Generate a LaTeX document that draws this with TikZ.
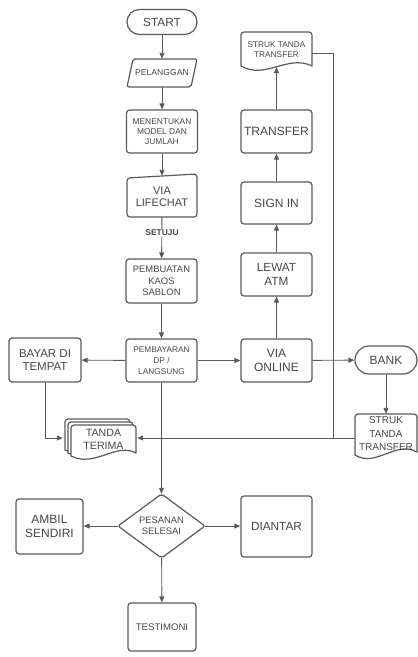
\documentclass[tikz,border=0pt]{standalone}
\usepackage{fontspec}
\setmainfont{Liberation Sans}
\usetikzlibrary{arrows.meta,calc}
\definecolor{ln}{HTML}{5A5A5A}
\definecolor{tx}{HTML}{474747}
\tikzset{
  box/.style={draw=ln, line width=1.2pt, rounded corners=3pt, fill=white, align=center, text=tx, inner sep=1pt},
  ghost/.style={align=center, text=tx, inner sep=1pt},
  outl/.style={draw=ln, line width=1.2pt, fill=white, line join=round},
  arr/.style={draw=ln, line width=0.9pt, -{Triangle[length=6pt,width=5pt]}},
  con/.style={draw=ln, line width=0.9pt},
}
\newcommand{\fz}[2]{\fontsize{#1}{#2}\selectfont}
\begin{document}
\begin{tikzpicture}[x=1pt,y=-1pt]
\useasboundingbox (0,0) rectangle (418,657);

% ---------- main column ----------
\node[box, minimum width=70pt, minimum height=25pt, rounded corners=12.5pt, font=\fz{11.8}{13}] (start) at (162,22) {START};

\draw[outl, rounded corners=2pt] (127,87) -- (133,59) -- (197,59) -- (191,87) -- cycle;
\node[ghost, minimum width=70pt, minimum height=28pt, font=\fz{8.6}{10}] (pel) at (162,73) {PELANGGAN};

\node[box, minimum width=71pt, minimum height=43pt, font=\fz{8.4}{10}] (menen) at (162,131.5) {MENENTUKAN\\MODEL DAN\\JUMLAH};

\draw[outl, rounded corners=3pt] (127,217) -- (127,178) -- (197,174) -- (197,217) -- cycle;
\node[ghost, minimum width=70pt, minimum height=41pt, font=\fz{11}{11.8}] (chat) at (162,196.5) {VIA\\LIFECHAT};

\node[box, minimum width=71pt, minimum height=44pt, font=\fz{9.4}{11.7}] (buat) at (161.5,281) {PEMBUATAN\\KAOS\\SABLON};

\node[box, minimum width=71pt, minimum height=43pt, font=\fz{8.3}{10.7}] (bayar) at (161.5,360.5) {PEMBAYARAN\\DP /\\LANGSUNG};

\node[box, minimum width=72pt, minimum height=44pt, font=\fz{11.5}{13.3}] (tempat) at (45,360) {BAYAR DI\\TEMPAT};

% tanda terima (multi document)
\begin{scope}[shift={(-6,-6)}]
\draw[outl] (71,456) [rounded corners=3pt]-- (71,425) -- (136,425) [sharp corners]-- (136,453) .. controls (116,442) and (95,468) .. (71,456) -- cycle;
\end{scope}
\begin{scope}[shift={(-3,-3)}]
\draw[outl] (71,456) [rounded corners=3pt]-- (71,425) -- (136,425) [sharp corners]-- (136,453) .. controls (116,442) and (95,468) .. (71,456) -- cycle;
\end{scope}
\draw[outl] (71,456) [rounded corners=3pt]-- (71,425) -- (136,425) [sharp corners]-- (136,453) .. controls (116,442) and (95,468) .. (71,456) -- cycle;
\node[ghost, minimum width=65pt, minimum height=30pt, font=\fz{10.6}{13.5}] (tanda) at (103.5,439.5) {TANDA\\TERIMA};

% decision
\draw[outl, rounded corners=2pt] (118,526) -- (161.5,494) -- (205,526) -- (161.5,558) -- cycle;
\node[ghost, minimum width=87pt, minimum height=64pt, font=\fz{9.4}{10.7}] (dia) at (161.5,526) {PESANAN\\SELESAI};

\node[box, minimum width=67pt, minimum height=55pt, font=\fz{12}{14.3}] (ambil) at (49.5,526.5) {AMBIL\\SENDIRI};
\node[box, minimum width=71pt, minimum height=61pt, font=\fz{11.8}{13}] (antar) at (276.5,526.5) {DIANTAR};
\node[box, minimum width=68pt, minimum height=48pt, font=\fz{9.6}{11}] (testi) at (162,627) {TESTIMONI};

% ---------- right column ----------
\draw[outl] (241,66) [rounded corners=3pt]-- (241,32) -- (312,32) [sharp corners]-- (312,66) .. controls (288,54) and (265,80) .. (241,66) -- cycle;
\node[ghost, minimum width=71pt, minimum height=35pt, font=\fz{8.3}{10}] (struka) at (276.5,49.5) {STRUK TANDA\\TRANSFER};

\node[box, minimum width=71pt, minimum height=43pt, font=\fz{12}{13}] (transfer) at (276.5,131.5) {TRANSFER};
\node[box, minimum width=71pt, minimum height=42pt, font=\fz{12}{13}] (signin) at (276.5,203) {SIGN IN};
\node[box, minimum width=71pt, minimum height=43pt, font=\fz{11.8}{14.5}] (atm) at (276.5,274.5) {LEWAT\\ATM};
\node[box, minimum width=71pt, minimum height=43pt, font=\fz{12}{14}] (online) at (276.5,360.5) {VIA\\ONLINE};

\node[box, minimum width=62pt, minimum height=28pt, rounded corners=14pt, font=\fz{12}{13}] (bank) at (386,360) {BANK};

\draw[outl] (355,455) [rounded corners=3pt]-- (355,414) -- (417,414) [sharp corners]-- (417,452) .. controls (396,440) and (376,468) .. (355,455) -- cycle;
\node[ghost, minimum width=62pt, minimum height=40pt, font=\fz{10}{13.5}] (strukb) at (386,434) {STRUK\\TANDA\\TRANSFER};

% ---------- connectors ----------
\coordinate (j) at (333,438);
\draw[arr] (start) -- (pel);
\draw[arr] (pel) -- (menen);
\draw[arr] (menen) -- (chat);
\draw[arr] (chat) -- (buat);
\node[fill=white, text=tx, inner sep=1.5pt, font=\bfseries\fz{8.4}{10}] (setuju) at (162,233) {SETUJU};
\draw[arr] (buat) -- (bayar);
\draw[arr] (bayar) -- (tempat);
\draw[arr] (bayar) -- (online);
\draw[arr] (bayar) -- (dia);
\draw[arr] (tempat.south) |- ([xshift=-8pt]tanda.west |- j);
\draw[con] ([yshift=-3.5pt]struka.east) -| (j);
\draw[arr] (strukb.west |- j) -- ([xshift=1pt]tanda.east |- j);
\draw[arr] (online) -- (atm);
\draw[arr] (atm) -- (signin);
\draw[arr] (signin) -- (transfer);
\draw[arr] (transfer) -- (struka);
\draw[arr] (online) -- (bank);
\draw[arr] (bank.south) -- (bank.south |- strukb.north);
\draw[arr] (dia.west) -- (ambil.east |- dia.west);
\draw[arr] (dia.east) -- (antar.west |- dia.east);
\draw[arr] (dia) -- (testi);
\end{tikzpicture}
\end{document}
